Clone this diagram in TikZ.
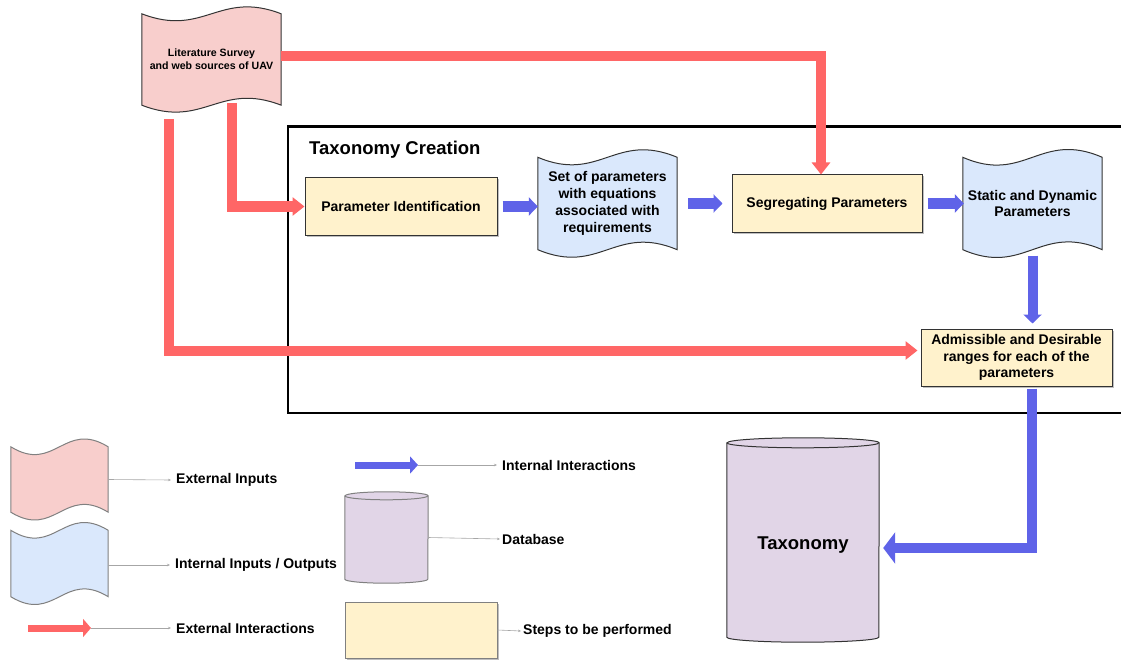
\documentclass[tikz,border=0pt]{standalone}
\usepackage{fontspec}
\setmainfont{Liberation Sans}
\usetikzlibrary{arrows.meta,backgrounds,shadows}

\definecolor{pinkfill}{HTML}{F8CECC}
\definecolor{bluefill}{HTML}{DAE8FC}
\definecolor{yellowfill}{HTML}{FFF2CC}
\definecolor{purplefill}{HTML}{E1D5E7}
\definecolor{redflowc}{HTML}{FF6666}
\definecolor{blueflowc}{HTML}{5F63E8}
\definecolor{edgegray}{HTML}{333333}

\tikzset{
  txt/.style={font=\fontsize{14}{16.8}\selectfont\bfseries},
  doc/.style={rectangle, minimum width=139pt, minimum height=92pt,
    align=center, inner sep=2pt, txt},
  stepbox/.style={rectangle, draw=edgegray, line width=1pt, fill=yellowfill,
    align=center, inner sep=2pt, txt,
    drop shadow={shadow xshift=1.5pt, shadow yshift=-1.5pt, opacity=0.25, fill=black}},
  dbnode/.style={rectangle, inner sep=0pt, align=center},
  cylfill/.style={fill=purplefill, draw=edgegray, line width=1pt},
  redflow/.style={draw=redflowc, line width=10pt, line join=miter,
    -{Triangle[length=12pt,width=18pt]}},
  blueflow/.style={draw=blueflowc, line width=10pt, line join=miter,
    -{Triangle[length=9pt,width=18pt]}},
  thinarrow/.style={draw=gray!70, line width=0.6pt, -{Stealth[length=3pt,width=2.5pt]}},
  legendtxt/.style={anchor=west, inner sep=0pt, txt},
}

% wavy document outline around a node:
% #1 node, #2 fill, #3 edge colour, #4 horizontal control reach, #5 wave depth
\newcommand{\drawdoc}[5]{%
  \draw[fill=#2, draw=#3, line width=1pt]
    (#1.north west) .. controls +(#4pt,-#5pt) and +(-#4pt,#5pt) .. (#1.north east)
    -- (#1.south east) .. controls +(-#4pt,#5pt) and +(#4pt,-#5pt) .. (#1.south west)
    -- cycle;}

\begin{document}
\begin{tikzpicture}[x=1pt,y=1pt]
\useasboundingbox (0,0) rectangle (1121,-663);

% frame of the taxonomy creation stage
\draw[line width=2.5pt] (1126,-126.5) -- (288,-126.5) -- (288,-413) -- (1126,-413);
\node[anchor=west, inner sep=0pt, font=\fontsize{18.5}{22}\selectfont\bfseries]
  (title) at (309,-150) {Taxonomy Creation};

% external source
\node[doc, minimum height=91pt, font=\fontsize{10.6}{13}\selectfont\bfseries]
  (lit) at (211.5,-59.5) {Literature Survey\\and web sources of UAV};

% processing steps and intermediate documents
\node[stepbox, minimum width=192pt, minimum height=57pt] (pid) at (401,-206.5)
  {Parameter Identification};
\node[doc] (setp) at (607.5,-203.5)
  {Set of parameters\\with equations\\associated with\\requirements};
\node[stepbox, minimum width=190pt, minimum height=57pt] (seg) at (827,-203.5)
  {Segregating Parameters};
\node[doc] (static) at (1032.5,-203.5)
  {Static and Dynamic\\Parameters};
\node[stepbox, minimum width=191pt, minimum height=57pt] (adm) at (1016.5,-357.5)
  {Admissible and Desirable\\ranges for each of the\\parameters};

% taxonomy database
\node[dbnode, minimum width=152pt, minimum height=194pt,
  font=\fontsize{18.5}{22}\selectfont\bfseries] (tax) at (803,-545) {Taxonomy};

\begin{scope}[on background layer]
  \drawdoc{lit}{pinkfill}{edgegray}{62}{24}
  \drawdoc{setp}{bluefill}{edgegray}{62}{26}
  \drawdoc{static}{bluefill}{edgegray}{62}{27}
  \draw[cylfill] ([yshift=5pt]tax.north west) -- ([yshift=5pt]tax.south west)
    arc[start angle=180, end angle=360, x radius=76pt, y radius=5pt]
    -- ([yshift=5pt]tax.north east)
    arc[start angle=0, end angle=180, x radius=76pt, y radius=5pt] -- cycle;
  \draw[edgegray, line width=1pt] ([yshift=5pt]tax.north west)
    arc[start angle=180, end angle=360, x radius=76pt, y radius=5pt];
\end{scope}

% external interactions
\draw[redflow] ([yshift=3.5pt]lit.east) -| ([xshift=-6pt]seg.north);
\draw[redflow] ([shift={(20.5,-43.5)}]lit.center) |- (pid.west);
\draw[redflow] ([shift={(-42.5,-59.5)}]lit.center) |- ([shift={(-3pt,7pt)}]adm.west);

% internal interactions
\draw[blueflow] ([xshift=5pt]pid.east) -- (setp.west |- pid.east);
\draw[blueflow] ([xshift=11pt]setp.east |- seg.west) -- ([xshift=-9pt]seg.west);
\draw[blueflow] ([xshift=5pt]seg.east) -- ([xshift=1pt]static.west |- seg.east);
\draw[blueflow] ([yshift=-6pt]static.south) -- ([yshift=5pt]adm.north -| static.south);
\draw[blueflow, -{Triangle[length=12pt,width=31pt]}]
  ([xshift=15.5pt, yshift=-2pt]adm.south) |- ([shift={(4pt,-3pt)}]tax.east);

% legend
\node[doc, minimum width=97pt, minimum height=65pt] (lpink) at (59.5,-479.5) {};
\node[doc, minimum width=97pt, minimum height=66pt] (lblue) at (59.5,-563.5) {};
\begin{scope}[on background layer]
  \drawdoc{lpink}{pinkfill}{gray}{44}{27}
  \drawdoc{lblue}{bluefill}{gray}{44}{27}
\end{scope}
\node[legendtxt] (tpink) at (176,-480) {External Inputs};
\draw[thinarrow] (lpink.east) -- ([xshift=-5pt]tpink.west);
\node[legendtxt] (tblue) at (175,-565) {Internal Inputs / Outputs};
\draw[thinarrow] ([yshift=-1.5pt]lblue.east) -- ([xshift=-5pt]tblue.west);

\coordinate (ra0) at (28,-628);
\coordinate (ra1) at (91,-628);
\draw[redflow, line width=7pt, -{Triangle[length=8pt,width=18pt]}] (ra0) -- (ra1);
\node[legendtxt] (tred) at (176,-628) {External Interactions};
\draw[thinarrow] (ra1) -- ([xshift=-5pt]tred.west);

\coordinate (ba0) at (355,-465);
\coordinate (ba1) at (418,-465);
\draw[blueflow, line width=7pt, -{Triangle[length=8pt,width=17pt]}] (ba0) -- (ba1);
\node[legendtxt] (tbluea) at (502,-465) {Internal Interactions};
\draw[thinarrow] (ba1) -- ([xshift=-5pt]tbluea.west);

\node[dbnode, minimum width=83pt, minimum height=91pt] (db) at (386.5,-537.5) {};
\begin{scope}[on background layer]
  \draw[cylfill, draw=gray] ([yshift=-4pt]db.north west) -- ([yshift=4pt]db.south west)
    arc[start angle=180, end angle=360, x radius=41.5pt, y radius=4pt]
    -- ([yshift=-4pt]db.north east)
    arc[start angle=0, end angle=180, x radius=41.5pt, y radius=4pt] -- cycle;
  \draw[gray, line width=1pt] ([yshift=-4pt]db.north west)
    arc[start angle=180, end angle=360, x radius=41.5pt, y radius=4pt];
\end{scope}
\node[legendtxt] (tdb) at (502,-539) {Database};
\draw[thinarrow] (db.east) -- ([xshift=-2pt]tdb.west);

\node[stepbox, draw=gray, drop shadow={opacity=0}, minimum width=152pt,
  minimum height=56pt] (lstep) at (421,-630) {};
\node[legendtxt] (tstep) at (523,-631) {Steps to be performed};
\draw[thinarrow] (lstep.east) -- ([xshift=-2pt]tstep.west);
\end{tikzpicture}
\end{document}
